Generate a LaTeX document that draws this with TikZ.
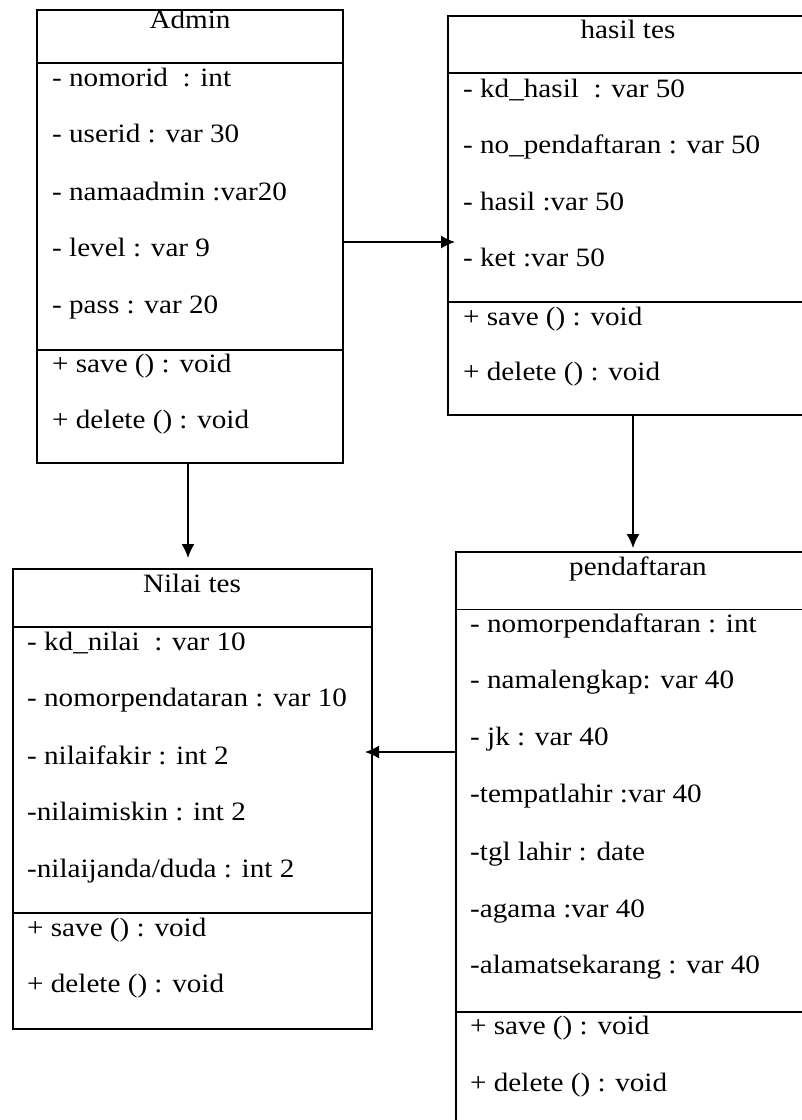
\documentclass[tikz,border=0pt]{standalone}
\usepackage{fontspec}
\setmainfont{Liberation Serif}[FakeStretch=1.1]
\usetikzlibrary{arrows.meta,calc}
\begin{document}
\begin{tikzpicture}[x=1pt,y=-1pt,
  box/.style={draw=black,line width=1.4pt,fill=none,anchor=north west,inner sep=0pt,outer sep=0pt},
  sep/.style={line width=1.4pt},
  txt/.style={anchor=base west,inner sep=0pt,font=\fontsize{26.5}{30}\selectfont},
  ttl/.style={anchor=base,inner sep=0pt,font=\fontsize{26.5}{30}\selectfont},
  arr/.style={line width=1.4pt,-{Latex[length=14pt,width=13pt]}}]
\useasboundingbox (0,0) rectangle (802,1120);
\clip (0,0) rectangle (802,1120);
% ---------- Admin ----------
\node[box,minimum width=306pt,minimum height=453pt] (admin) at (37,10) {};
\draw[sep] (37,63) -- (343,63);
\draw[sep] (37,350) -- (343,350);
\node[ttl] (admint) at (190,28) {Admin};
\node[txt] (a1) at (52,86) {- nomorid\ \ : int};
\node[txt] (a2) at (52,142) {- userid : var 30};
\node[txt] (a3) at (52,200) {- namaadmin :var20};
\node[txt] (a4) at (52,256) {- level : var 9};
\node[txt] (a5) at (52,313) {- pass : var 20};
\node[txt] (a6) at (52,372) {+ save () : void};
\node[txt] (a7) at (52,428) {+ delete () : void};
% ---------- hasil tes ----------
\node[box,minimum width=360pt,minimum height=399pt] (hasil) at (448,16) {};
\draw[sep] (448,73) -- (808,73);
\draw[sep] (448,302) -- (808,302);
\node[ttl] (hasilt) at (628,38) {hasil tes};
\node[txt] (h1) at (463,97) {- kd\_hasil\ \ : var 50};
\node[txt] (h2) at (463,153) {- no\_pendaftaran : var 50};
\node[txt] (h3) at (463,210) {- hasil :var 50};
\node[txt] (h4) at (463,266) {- ket :var 50};
\node[txt] (h5) at (463,325) {+ save () : void};
\node[txt] (h6) at (463,380) {+ delete () : void};
% ---------- Nilai tes ----------
\node[box,minimum width=359pt,minimum height=460pt] (nilai) at (13,569) {};
\draw[sep] (13,627) -- (372,627);
\draw[sep] (13,913) -- (372,913);
\node[ttl] (nilait) at (192,592) {Nilai tes};
\node[txt] (n1) at (27,650) {- kd\_nilai\ \ : var 10};
\node[txt] (n2) at (27,706) {- nomorpendataran : var 10};
\node[txt] (n3) at (27,764) {- nilaifakir : int 2};
\node[txt] (n4) at (27,820) {-nilaimiskin : int 2};
\node[txt] (n5) at (27,877) {-nilaijanda/duda : int 2};
\node[txt] (n6) at (27,936) {+ save () : void};
\node[txt] (n7) at (27,992) {+ delete () : void};
% ---------- pendaftaran ----------
\node[box,minimum width=364pt,minimum height=598pt] (pend) at (456,552) {};
\draw[sep] (456,609.5) -- (820,609.5);
\draw[sep] (456,1012) -- (820,1012);
\node[ttl] (pendt) at (638,575) {pendaftaran};
\node[txt] (p1) at (470,632.5) {- nomorpendaftaran : int};
\node[txt] (p2) at (470,688.7) {- namalengkap: var 40};
\node[txt] (p3) at (470,745) {- jk : var 40};
\node[txt] (p4) at (470,802.7) {-tempatlahir :var 40};
\node[txt] (p5) at (470,860) {-tgl lahir : date};
\node[txt] (p6) at (470,917) {-agama :var 40};
\node[txt] (p7) at (470,973) {-alamatsekarang : var 40};
\node[txt] (p8) at (470,1034) {+ save () : void};
\node[txt] (p9) at (470,1091) {+ delete () : void};
% ---------- connectors ----------
\draw[arr,shorten >=-7pt] ([yshift=-5.5pt]admin.east) -- ([yshift=-5.5pt]admin.east -| hasil.west);
\draw[arr,shorten >=11pt] ([xshift=-2pt]admin.south) -- ([xshift=-2pt]admin.south |- nilai.north);
\draw[arr,shorten >=4pt] ([xshift=5pt]hasil.south) -- ([xshift=5pt]hasil.south |- pend.north);
\draw[arr,shorten >=-7pt] ([yshift=99pt]pend.west) -- ([yshift=99pt]pend.west -| nilai.east);
\end{tikzpicture}
\end{document}
